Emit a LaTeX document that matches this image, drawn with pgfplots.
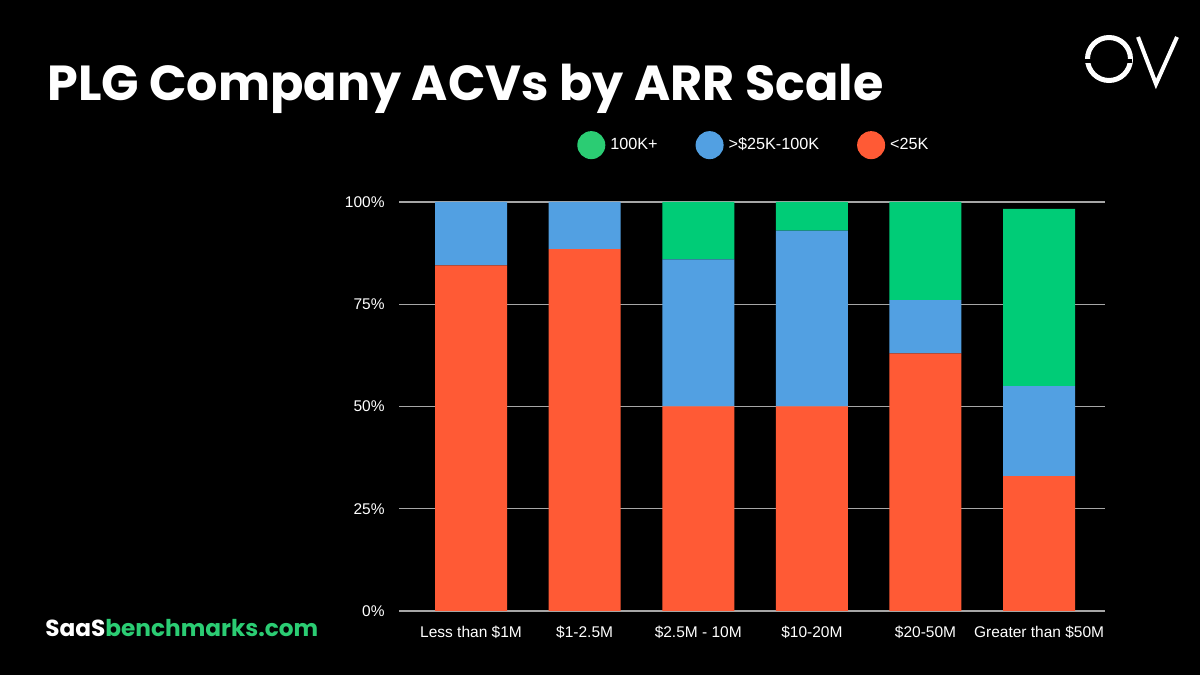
\documentclass[border=0pt]{standalone}
\usepackage{fontspec}
\setmainfont{Liberation Sans}
\newfontfamily\poppins{Poppins}
\usepackage{pgfplots}
\usepackage{pgfplotstable}
\pgfplotsset{compat=1.18}
\definecolor{cred}{HTML}{FF5A35}
\definecolor{cblue}{HTML}{52A0E2}
\definecolor{cgreen}{HTML}{00CC77}
\definecolor{lgreen}{HTML}{2BCC73}
\pgfplotstableread{
x red blue green
0 84.5 15.5 0
1 88.5 11.5 0
2 50 36 14
3 50 43 7
4 63 13 24
5 33 22 43.3
}\data
\begin{document}
\begin{tikzpicture}
\fill[black] (0,0) rectangle (600pt,337.5pt);
\node[anchor=base west, inner sep=0, text=white, font=\poppins\bfseries\fontsize{24.6}{25}\selectfont] at (23.5pt,287pt) {PLG Company ACVs by ARR Scale};
\node[anchor=base west, inner sep=0, font=\poppins\bfseries\fontsize{11.6}{13}\selectfont] at (22.5pt,19.5pt) {\textcolor{white}{SaaS}\textcolor{lgreen}{benchmarks.com}};
% logo
\draw[white, line width=2.5pt] (554.5pt,308pt) circle (10.75pt);
\fill[black] (540pt,305.8pt) rectangle (566pt,308pt);
\draw[white, line width=2pt, miter limit=10] (569pt,319pt) -- (578pt,295.5pt) -- (588.5pt,319pt);
\begin{axis}[
  at={(199.5pt,32pt)}, anchor=south west,
  scale only axis, width=353pt, height=204.5pt,
  ybar stacked, bar width=36pt,
  xmin=-0.634, xmax=5.58, ymin=0, ymax=100,
  axis line style={draw=none}, tick style={draw=none},
  ymajorgrids, grid style={line width=0.6pt, color=black!35!white},
  ytick={0,25,50,75,100},
  yticklabels={0\%,25\%,50\%,75\%,100\%},
  xtick={0,1,2,3,4,5},
  xticklabels={Less than \$1M,\$1-2.5M,\$2.5M - 10M,\$10-20M,\$20-50M,Greater than \$50M},
  ticklabel style={text=white, font=\fontsize{7.75}{9}\selectfont},
  yticklabel style={anchor=east, inner sep=0pt, xshift=-7pt},
  xticklabel style={anchor=base, inner sep=0pt, yshift=-13pt},
  legend columns=3, reverse legend,
  legend style={at={(0.2435,1.139)}, anchor=west, draw=none, fill=none, text=white,
    font=\fontsize{8.1}{9}\selectfont,
    /tikz/every even column/.append style={column sep=17pt},
    /tikz/every odd column/.append style={column sep=0.5pt}},
]
\addplot[fill=cred, draw=none, legend image code/.code={\fill[cred] (7pt,0pt) circle (7pt);}] table[x=x,y=red] {\data};
\addplot[fill=cblue, draw=none, legend image code/.code={\fill[cblue] (7pt,0pt) circle (7pt);}] table[x=x,y=blue] {\data};
\addplot[fill=cgreen, draw=none, legend image code/.code={\fill[lgreen] (7pt,0pt) circle (7pt);}] table[x=x,y=green] {\data};
\legend{<25K,>\$25K-100K,100K+}
\end{axis}
\end{tikzpicture}
\end{document}
